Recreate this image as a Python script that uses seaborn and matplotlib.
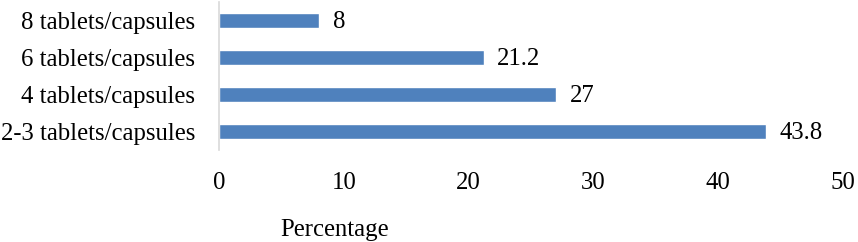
import matplotlib
matplotlib.use("Agg")
import matplotlib.pyplot as plt
import seaborn as sns
import pandas as pd

categories = ["8 tablets/capsules", "6 tablets/capsules", "4 tablets/capsules", "2-3 tablets/capsules"]
values = [8, 21.2, 27, 43.8]
value_labels = ["8", "21.2", "27", "43.8"]
xticks = [0, 10, 20, 30, 40, 50]

sns.set_theme(style="white")
plt.rcParams['font.family'] = ['Liberation Serif', 'DejaVu Serif']

df = pd.DataFrame({"cat": categories, "val": values})
FS = 17.8

fig = plt.figure(figsize=(8.58, 2.42), dpi=100)
ax = fig.add_axes([219/858, 1 - 150/242, (843-219)/858, 148/242])
sns.barplot(data=df, y="cat", x="val", orient="h", color="#4F81BD", saturation=1,
            width=0.42, ax=ax)
ax.set_xlim(0, 50)
ax.set_ylim(3.5, -0.5)
ax.set_xticks(xticks)
ax.set_xticklabels([str(t) for t in xticks])
for s in ["top", "right", "bottom"]:
    ax.spines[s].set_visible(False)
ax.spines["left"].set_color("#D9D9D9")
ax.spines["left"].set_linewidth(1.2)
ax.tick_params(axis="x", length=0, pad=16, labelsize=FS, colors="black")
ax.tick_params(axis="y", length=0, pad=17, labelsize=FS, colors="black")
ax.set_ylabel("")
ax.set_xlabel("Percentage", fontsize=FS, color="black")
ax.xaxis.set_label_coords((335-219)/624, -(230-150)/148)
ax.xaxis.label.set_va("center")
for i, (v, lbl) in enumerate(zip(values, value_labels)):
    ax.text(v + 1.1, i + 0.04, lbl, va="center", ha="left", fontsize=FS, color="black")
fig.savefig("out.png", dpi=100)
